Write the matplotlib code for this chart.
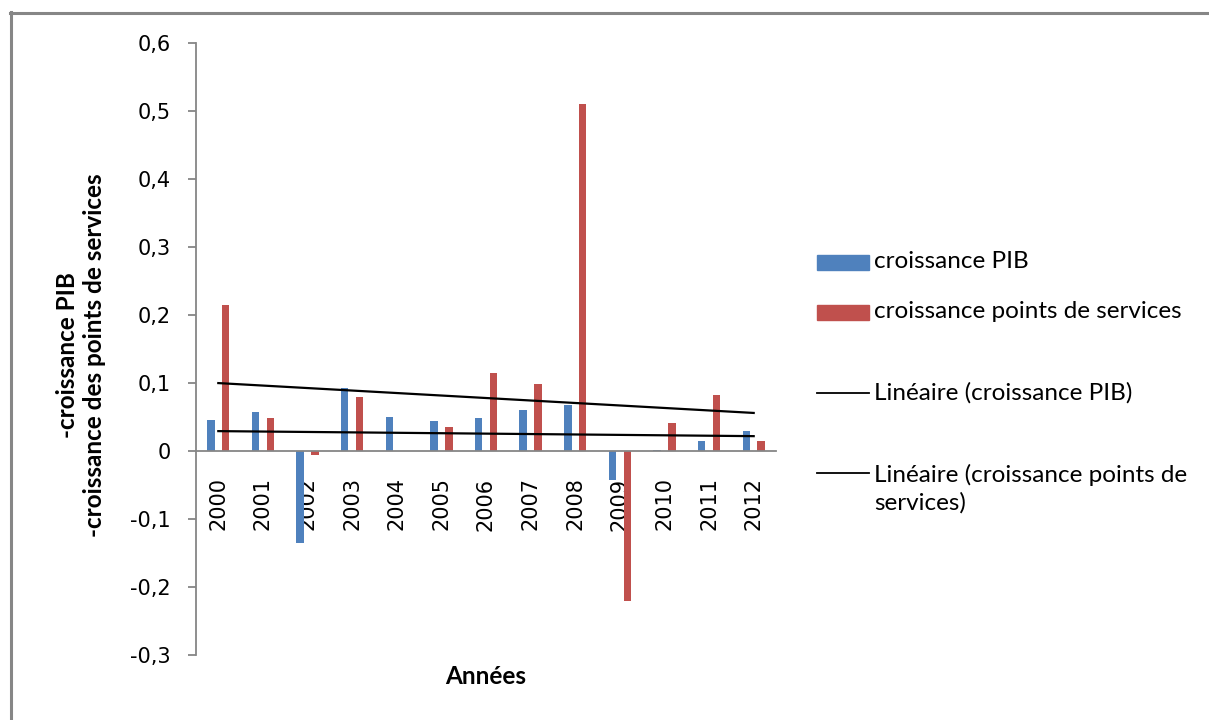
import numpy as np
import matplotlib
matplotlib.use('Agg')
import matplotlib.pyplot as plt
from matplotlib.lines import Line2D
from matplotlib.patches import Rectangle

# ---- data ----
years = ['2000', '2001', '2002', '2003', '2004', '2005', '2006',
         '2007', '2008', '2009', '2010', '2011', '2012']
croissance_pib = [0.045, 0.057, -0.136, 0.093, 0.050, 0.044, 0.048,
                  0.060, 0.068, -0.042, 0.002, 0.014, 0.029]
croissance_services = [0.215, 0.049, -0.006, 0.079, 0.0, 0.035, 0.115,
                       0.099, 0.510, -0.220, 0.041, 0.082, 0.014]
ytick_values = [-0.3, -0.2, -0.1, 0.0, 0.1, 0.2, 0.3, 0.4, 0.5, 0.6]
ytick_labels = ['-0,3', '-0,2', '-0,1', '0', '0,1', '0,2', '0,3', '0,4', '0,5', '0,6']
legend_labels = ['croissance PIB', 'croissance points de services',
                 'Linéaire (croissance PIB)',
                 'Linéaire (croissance points de\nservices)']

BLUE = '#4F81BD'
RED = '#C0504D'
GRAY = '#868686'
W, H = 1209, 720
TEXT_FONT = ['Lato', 'DejaVu Sans']
TICK_FONT = ['DejaVu Sans']
TXT_SIZE = 17.5

fig = plt.figure(figsize=(W / 100, H / 100), dpi=100)

def fx(px):
    return px / W

def fy(py):
    return 1 - py / H

ax = fig.add_axes([fx(196), fy(655), fx(776) - fx(196), fy(43) - fy(655)])

x = np.arange(len(years))
bw = 0.168
off = 0.166
ax.bar(x - off, croissance_pib, width=bw, color=BLUE, zorder=2)
ax.bar(x + off, croissance_services, width=bw, color=RED, zorder=2)

# linear trend lines
for series in (croissance_pib, croissance_services):
    a, b = np.polyfit(x, series, 1)
    ax.plot([x[0], x[-1]], [a * x[0] + b, a * x[-1] + b], color='black', lw=1.6, zorder=3)

ax.set_xlim(-0.5, len(years) - 0.5)
ax.set_ylim(-0.3, 0.6)

for s in ('top', 'right'):
    ax.spines[s].set_visible(False)
ax.spines['left'].set_color(GRAY)
ax.spines['left'].set_linewidth(1.3)
ax.spines['bottom'].set_color(GRAY)
ax.spines['bottom'].set_linewidth(1.3)
ax.spines['bottom'].set_position(('data', 0))

ax.set_yticks(ytick_values)
ax.set_yticklabels(ytick_labels, fontfamily=TICK_FONT, fontsize=15)
ax.tick_params(axis='y', direction='out', length=6, width=1.3, color=GRAY, pad=12)

ax.set_xticks(x)
ax.set_xticklabels(years, rotation=90, fontfamily=TICK_FONT, fontsize=15, va='top')
ax.tick_params(axis='x', length=0, pad=19)

# axis titles
fig.text(fx(486), fy(677), 'Années', fontfamily=TEXT_FONT, fontsize=TXT_SIZE,
         fontweight='bold', ha='center', va='center')
fig.text(fx(81), fy(355), '-croissance PIB\n-croissance des points de services',
         fontfamily=TEXT_FONT, fontsize=TXT_SIZE, fontweight='bold', rotation=90,
         ha='center', va='center', multialignment='center', linespacing=1.22)

# legend (manual)
handle_x0, handle_x1 = fx(817), fx(869)
text_x = fx(874)
ys = [262, 312, 393, 473]
fig.add_artist(Rectangle((handle_x0, fy(270)), handle_x1 - handle_x0, fy(255) - fy(270),
                         transform=fig.transFigure, color=BLUE))
fig.add_artist(Rectangle((handle_x0, fy(320)), handle_x1 - handle_x0, fy(305) - fy(320),
                         transform=fig.transFigure, color=RED))
for yy in ys[2:]:
    fig.add_artist(Line2D([handle_x0, handle_x1], [fy(yy), fy(yy)],
                          transform=fig.transFigure, color='black', lw=1.3))
for i, (lab, yy) in enumerate(zip(legend_labels, ys)):
    fig.text(text_x, fy(yy + (16 if i == 3 else 0)), lab, fontfamily=TEXT_FONT,
             fontsize=TXT_SIZE, ha='left', va='center', linespacing=1.32)

# outer chart border (left and top edges visible)
fig.add_artist(Line2D([fx(11), fx(11)], [fy(12), 0], transform=fig.transFigure,
                      color=GRAY, lw=2.2))
fig.add_artist(Line2D([fx(10), 1], [fy(13), fy(13)], transform=fig.transFigure,
                      color=GRAY, lw=2.2))

fig.savefig('out.png', dpi=100)
